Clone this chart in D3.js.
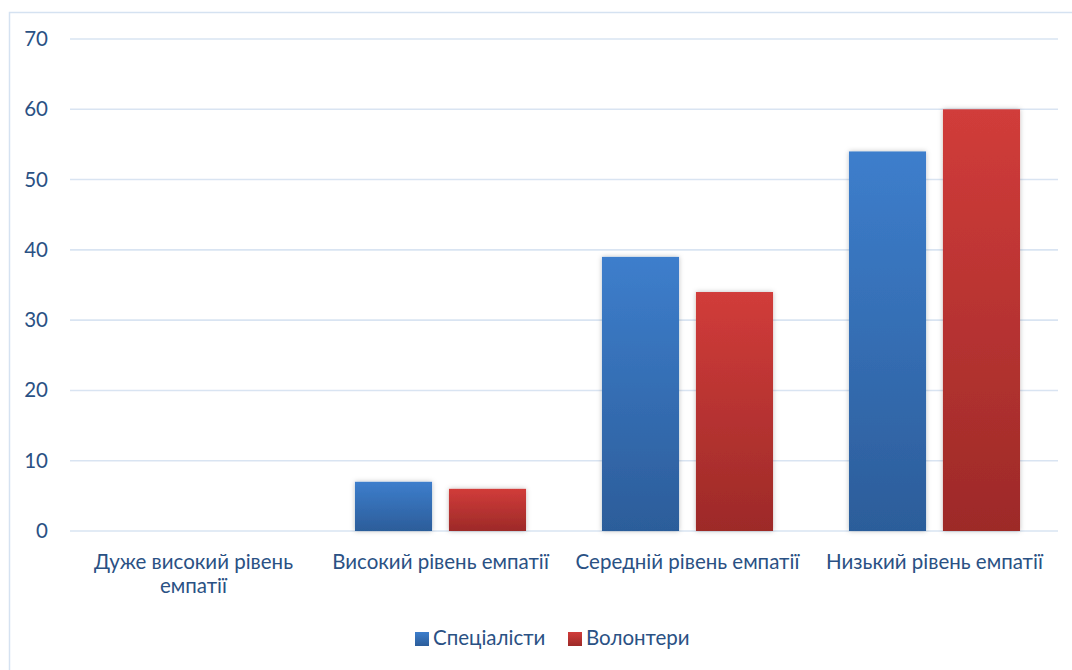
<!DOCTYPE html>
<html><head><meta charset="utf-8">
<script src="https://cdn.jsdelivr.net/npm/d3@7"></script>
<style>
body{margin:0;background:#fff;}
svg text{font-family:Lato,"Open Sans",sans-serif;fill:#2a5184;}
</style></head>
<body>
<svg id="c" width="1072" height="670"></svg>
<script>
const categories = ["Дуже високий рівень емпатії","Високий рівень емпатії","Середній рівень емпатії","Низький рівень емпатії"];
const seriesNames = ["Спеціалісти","Волонтери"];
const specialists = [0, 7, 39, 54];
const volunteers = [0, 6, 34, 60];
const yTicks = [0,10,20,30,40,50,60,70];

const svg = d3.select("#c");
const m={left:70,right:1058,top:39,bottom:531};
const FS="20.5px";

const defs = svg.append("defs");
const grads = [["gb","#3d7ecc","#2c5d9a"],["gr","#d13c3a","#9d2a28"]];
grads.forEach(([id,a,b])=>{
  const g=defs.append("linearGradient").attr("id",id).attr("x1",0).attr("y1",0).attr("x2",0).attr("y2",1);
  g.append("stop").attr("offset","0%").attr("stop-color",a);
  g.append("stop").attr("offset","100%").attr("stop-color",b);
});
const f=defs.append("filter").attr("id","sh").attr("x","-20%").attr("y","-20%").attr("width","140%").attr("height","140%");
f.append("feDropShadow").attr("dx",0).attr("dy",0).attr("stdDeviation",2.5).attr("flood-color","#000").attr("flood-opacity",0.25);

svg.append("rect").attr("x",9.5).attr("y",12.5).attr("width",1070).attr("height",670).attr("fill","none").attr("stroke","#d5e2f1").attr("stroke-width",1.5);

const y=d3.scaleLinear().domain([0,70]).range([m.bottom,m.top]);
const x=d3.scaleBand().domain(categories).range([m.left,m.right]).paddingInner(0).paddingOuter(0);
const xs=d3.scaleBand().domain(seriesNames).range([0,x.bandwidth()]).paddingInner(0.18).paddingOuter(0.404);

svg.append("g").selectAll("line").data(yTicks).join("line")
  .attr("x1",m.left).attr("x2",m.right).attr("y1",d=>y(d)).attr("y2",d=>y(d))
  .attr("stroke","#d9e4f2").attr("stroke-width",1.6);

const yAxis=d3.axisLeft(y).tickValues(yTicks).tickSize(0).tickPadding(0);
const ya=svg.append("g").attr("transform","translate(48,0)").call(yAxis);
ya.select(".domain").remove();
ya.selectAll("text").style("font-size",FS).attr("fill","#2a5184").style("font-family","Lato,'Open Sans',sans-serif");

const data=categories.map((c,i)=>({c,vals:[specialists[i],volunteers[i]]}));
const grp=svg.append("g").selectAll("g").data(data).join("g").attr("transform",d=>`translate(${x(d.c)},0)`);
grp.selectAll("rect").data(d=>d.vals.map((v,j)=>({v,s:seriesNames[j],j}))).join("rect")
  .filter(d=>d.v>0)
  .attr("x",d=>xs(d.s)).attr("width",xs.bandwidth())
  .attr("y",d=>y(d.v)).attr("height",d=>y(0)-y(d.v))
  .attr("fill",d=>d.j===0?"url(#gb)":"url(#gr)").attr("filter","url(#sh)");

const xa=d3.axisBottom(x).tickSize(0).tickPadding(0);
const xg=svg.append("g").attr("transform",`translate(0,${m.bottom})`).call(xa);
xg.select(".domain").remove();
xg.selectAll("text").remove();
const wraps={"Дуже високий рівень емпатії":["Дуже високий рівень","емпатії"]};
xg.selectAll(".tick").each(function(d){
  const lines=wraps[d]||[d];
  const t=d3.select(this).append("text").attr("text-anchor","middle").style("font-size",FS).attr("fill","#2a5184");
  lines.forEach((l,i)=>t.append("tspan").attr("x",0).attr("y",38+i*24).text(l));
});

const leg=svg.append("g");
const items=[{n:seriesNames[0],g:"url(#gb)",x:415},{n:seriesNames[1],g:"url(#gr)",x:568}];
items.forEach(it=>{
  leg.append("rect").attr("x",it.x).attr("y",632).attr("width",14).attr("height",14).attr("fill",it.g);
  leg.append("text").attr("x",it.x+18).attr("y",645).style("font-size",FS).text(it.n);
});
</script>
</body></html>
